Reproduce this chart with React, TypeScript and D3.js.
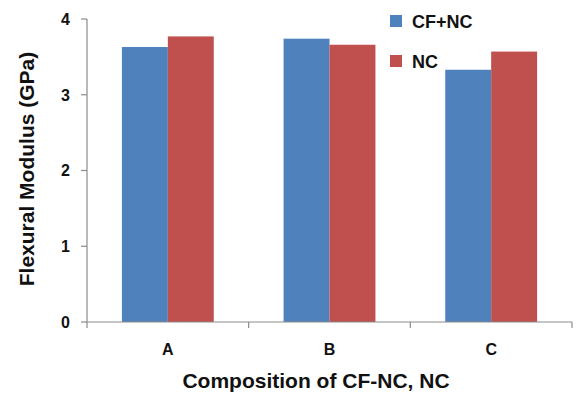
import * as d3 from "d3";

const categories = ["A", "B", "C"];
const seriesNames = ["CF+NC", "NC"];
const cfnc = [3.63, 3.74, 3.33];
const nc = [3.77, 3.66, 3.57];
const yTicks = [0, 1, 2, 3, 4];

const colors = ["#4F81BD", "#C0504D"];

export default function App() {
  const width = 576;
  const height = 396;
  const left = 87;
  const right = 572;
  const top = 19;
  const bottom = 322;
  const font = "'Liberation Sans', Arial, sans-serif";

  const x = d3.scaleBand().domain(categories).range([left, right]).paddingInner(0).paddingOuter(0);
  const inner = d3
    .scaleBand()
    .domain(seriesNames)
    .range([0, x.bandwidth()])
    .paddingInner(0)
    .paddingOuter(0.76);
  const y = d3.scaleLinear().domain([0, 4]).range([bottom, top]);

  const series = [cfnc, nc];

  return (
    <svg
      width={width}
      height={height}
      style={{ position: "absolute", left: 0, top: 0, background: "#fff" }}
      fontFamily={font}
    >
      {/* bars */}
      {categories.map((c, i) =>
        series.map((vals, s) => (
          <rect
            key={c + s}
            x={(x(c) ?? 0) + (inner(seriesNames[s]) ?? 0)}
            y={y(vals[i])}
            width={inner.bandwidth()}
            height={bottom - y(vals[i])}
            fill={colors[s]}
          />
        ))
      )}

      {/* y axis */}
      <line x1={left} x2={left} y1={top} y2={bottom} stroke="#8c8c8c" strokeWidth={1.2} />
      {yTicks.map((t) => (
        <g key={t}>
          <line x1={left - 6} x2={left} y1={y(t)} y2={y(t)} stroke="#8c8c8c" strokeWidth={1.2} />
          <text
            x={left - 17}
            y={y(t)}
            dy="0.36em"
            textAnchor="end"
            fontSize={16}
            fontWeight="bold"
            fill="#111"
          >
            {t}
          </text>
        </g>
      ))}

      {/* x axis */}
      <line x1={left} x2={right} y1={bottom} y2={bottom} stroke="#8c8c8c" strokeWidth={1.2} />
      {[...categories.map((c) => x(c) ?? 0), right].map((p, i) => (
        <line key={i} x1={p} x2={p} y1={bottom} y2={bottom + 6} stroke="#8c8c8c" strokeWidth={1.2} />
      ))}
      {categories.map((c) => (
        <text
          key={c}
          x={(x(c) ?? 0) + x.bandwidth() / 2}
          y={355}
          textAnchor="middle"
          fontSize={16}
          fontWeight="bold"
          fill="#111"
        >
          {c}
        </text>
      ))}

      {/* axis titles */}
      <text x={316} y={388} textAnchor="middle" fontSize={21} fontWeight="bold" fill="#111">
        Composition of CF-NC, NC
      </text>
      <text
        transform={`translate(34, 169) rotate(-90)`}
        textAnchor="middle"
        fontSize={21}
        fontWeight="bold"
        fill="#111"
      >
        Flexural Modulus (GPa)
      </text>

      {/* legend */}
      {seriesNames.map((n, i) => (
        <g key={n} transform={`translate(390, ${15 + i * 40})`}>
          <rect width={12} height={12} fill={colors[i]} />
          <text x={22} y={12.5} fontSize={18} fontWeight="bold" fill="#111">
            {n}
          </text>
        </g>
      ))}
    </svg>
  );
}
